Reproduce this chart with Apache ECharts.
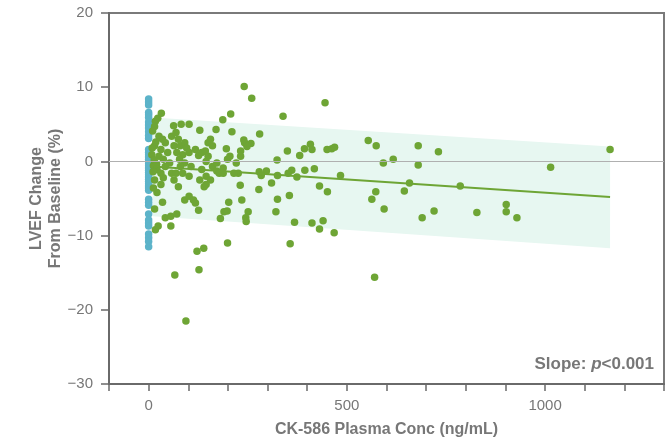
<!DOCTYPE html>
<html>
<head>
<meta charset="utf-8">
<script src="https://cdn.jsdelivr.net/npm/echarts@6/dist/echarts.min.js"></script>
<style>
  html, body { margin: 0; padding: 0; background: #fff; }
</style>
</head>
<body>
<div id="main" style="width: 671px; height: 441px"></div>
<script>
  // placebo patients, all at concentration 0
  var placeboY = [8.4, 8.0, 7.6, 6.6, 6.3, 5.9, 5.3, 4.9, 4.5, 4.0, 3.5, 3.1, 1.6, 1.2, 0.9, 0.6,
    0.3, 0.0, -0.3, -0.6, -0.9, -1.2, -1.5, -1.8, -2.1, -2.4, -2.7, -3.0, -3.3, -3.6, -3.9,
    -5.1, -5.5, -5.9, -7.1, -7.9, -8.3, -8.7, -9.8, -10.3, -10.8, -11.5];

  // CK-586 patients: plasma conc (ng/mL) and LVEF change (%)
  var drugX = [17, 23, 32, 15, 10, 26, 35, 42, 15, 31, 48, 26, 37, 15, 53, 42, 21, 31, 58, 37,
    15, 31, 21, 35, 15, 17, 24, 42, 56, 56, 71, 63, 82, 102, 58, 69, 75, 64, 80, 71,
    86, 91, 96, 102, 78, 91, 107, 80, 69, 86, 102, 64, 75, 91, 102, 113, 118, 126, 129, 118,
    126, 134, 143, 150, 156, 150, 161, 145, 161, 172, 134, 145, 129, 156, 172, 178, 188, 199, 205, 196,
    210, 221, 232, 232, 242, 226, 215, 188, 140, 145, 170, 187, 207,
    241, 260, 445, 339, 240, 258, 248, 280, 554, 574, 680, 731, 1164, 1014,
    408, 412, 393, 381, 350, 450, 462, 469, 324, 592, 617, 680,
    484, 418, 394, 361, 374, 352, 325, 297, 284, 279,
    310, 231, 278, 431, 658, 786, 645, 451, 573,
    355, 325, 235, 202, 563, 594, 321, 251, 198, 190, 828, 720, 902, 902, 929, 690,
    181, 245, 246, 368, 412, 440, 431, 468, 199, 357, 122, 139, 127, 66, 570, 94,
    8, 12, 9, 14, 11, 20, 12, 18];
  var drugY = [5.4, 5.8, 6.5, 4.7, 4.1, 3.4, 3.0, 2.5, 2.1, 1.6, 1.2, 0.7, 0.3, -0.2, -0.2, -0.7, -1.1, -1.6, -1.6, -2.2,
    -2.5, -3.1, -4.2, -5.5, -6.4, -9.2, -8.7, -7.6, -7.4, -8.7, -7.1, 4.8, 5.0, 5.0, 3.4, 3.9, 3.0, 2.1, 2.1, 1.2,
    0.9, 2.5, 1.8, 1.2, 0.3, -0.2, -0.7, -0.7, -1.6, -1.6, -2.0, -2.5, -3.4, -5.2, -4.7, -5.2, -5.6, -6.6, 4.2, 1.6,
    0.8, 1.2, 1.4, 0.7, 3.0, 2.5, 2.1, 0.0, -0.7, -0.2, -1.1, -2.0, -2.5, -2.5, -1.3, -1.6, -0.9, 0.3, 0.7, 1.7,
    4.0, -0.2, 0.7, 1.4, 2.5, -1.6, -1.6, -1.6, -3.4, -3.1, 4.3, 5.6, 6.4,
    10.1, 8.5, 7.9, 6.1, 2.9, 2.4, 2.0, 3.7, 2.8, 2.1, 2.1, 1.3, 1.6, -0.8,
    2.3, 1.6, 1.7, 0.8, 1.4, 1.6, 1.7, 1.9, 0.2, -0.2, 0.3, -0.5,
    -1.9, -1.0, -1.2, -1.2, -2.1, -1.6, -1.9, -1.3, -1.9, -1.4,
    -2.9, -3.2, -3.8, -3.3, -2.9, -3.3, -4.0, -4.1, -4.1,
    -4.6, -5.1, -5.2, -5.5, -5.1, -6.4, -6.8, -6.8, -6.7, -6.8, -6.9, -6.7, -5.8, -6.8, -7.6, -7.6,
    -7.7, -7.6, -8.1, -8.2, -8.3, -8.0, -9.1, -9.6, -11.0, -11.1, -12.1, -11.7, -14.6, -15.3, -15.6, -21.5,
    0.9, -0.6, 1.8, 0.2, -1.4, -0.4, -3.6, 2.6];

  // regression fit and its band
  var fitX = [10, 1164];
  var fitY = [-0.7, -4.8];
  var bandUpper = [5.9, 2.0];
  var bandLower = [-7.4, -11.7];

  var xTicks = [0, 500, 1000];
  var yTicks = [-30, -20, -10, 0, 10, 20];

  var FONT = "Liberation Sans, Arial, sans-serif";
  var GREEN = "#6ea535";
  var BLUE = "#5cb3c9";
  var GREY = "#777777";

  var myChart = echarts.init(document.getElementById("main"));

  var placeboData = placeboY.map(function (y) { return [0, y]; });
  var drugData = drugX.map(function (x, i) { return [x, drugY[i]]; });
  var fitData = fitX.map(function (x, i) { return [x, fitY[i]]; });
  var bandData = fitX.map(function (x, i) { return [x, bandUpper[i], bandLower[i]]; });

  var option = {
    animation: false,
    grid: {
      left: 109, right: 7, top: 13, bottom: 57,
      outerBoundsMode: "none",
      containLabel: false,
      show: true, borderColor: "#7a7a7a", borderWidth: 2
    },
    xAxis: {
      type: "value",
      min: -100, max: 1300, interval: 100,
      name: "CK-586 Plasma Conc (ng/mL)",
      nameLocation: "middle",
      nameGap: 38,
      nameMoveOverlap: false,
      nameTextStyle: { color: GREY, fontFamily: FONT, fontSize: 16, fontWeight: "bold" },
      axisLine: { onZero: false, lineStyle: { color: "#6a6a6a", width: 2 } },
      axisTick: { show: true, length: 7, lineStyle: { color: "#6a6a6a", width: 1.5 } },
      axisLabel: {
        color: GREY, fontFamily: FONT, fontSize: 15, margin: 14,
        formatter: function (v) { return xTicks.indexOf(v) >= 0 ? String(v) : ""; }
      },
      splitLine: { show: false }
    },
    yAxis: {
      type: "value",
      min: -30, max: 20, interval: 10,
      name: "LVEF Change\nFrom Baseline (%)",
      nameLocation: "middle",
      nameGap: 44,
      nameMoveOverlap: false,
      nameRotate: 90,
      nameTextStyle: { color: GREY, fontFamily: FONT, fontSize: 16, fontWeight: "bold", lineHeight: 19 },
      axisLine: { onZero: false, lineStyle: { color: "#6a6a6a", width: 2 } },
      axisTick: { show: true, length: 8, lineStyle: { color: "#6a6a6a", width: 1.5 } },
      axisLabel: {
        color: GREY, fontFamily: FONT, fontSize: 15, margin: 16,
        formatter: function (v) {
          return yTicks.indexOf(v) >= 0 ? String(v).replace("-", "\u2212") : "";
        }
      },
      splitLine: { show: false }
    },
    series: [
      {
        // shaded band around the fit
        type: "custom",
        silent: true,
        z: 1,
        data: bandData,
        renderItem: function (params, api) {
          if (params.dataIndex !== 0) return;
          var pts = [];
          bandData.forEach(function (d) { pts.push(api.coord([d[0], d[1]])); });
          for (var i = bandData.length - 1; i >= 0; i--) {
            pts.push(api.coord([bandData[i][0], bandData[i][2]]));
          }
          return {
            type: "polygon",
            shape: { points: pts },
            style: { fill: "#e7f7f1" }
          };
        }
      },
      {
        type: "line",
        data: [],
        silent: true,
        z: 2,
        markLine: {
          silent: true,
          symbol: "none",
          label: { show: false },
          lineStyle: { color: "#b0b0b0", width: 1, type: "solid" },
          data: [{ yAxis: 0 }]
        }
      },
      {
        type: "scatter",
        name: "Placebo",
        data: placeboData,
        symbolSize: 7.5,
        z: 4,
        itemStyle: { color: BLUE, opacity: 1 }
      },
      {
        type: "scatter",
        name: "CK-586",
        data: drugData,
        symbolSize: 7.5,
        z: 4,
        itemStyle: { color: GREEN, opacity: 1 }
      },
      {
        type: "line",
        data: fitData,
        showSymbol: false,
        z: 3,
        lineStyle: { color: GREEN, width: 2 }
      }
    ],
    graphic: [
      {
        type: "text",
        right: 17,
        top: 356,
        style: {
          text: "{b|Slope: }{i|p}{b|<0.001}",
          rich: {
            b: { fontFamily: FONT, fontSize: 17, fontWeight: "bold", fill: GREY, color: GREY },
            i: { fontFamily: FONT, fontSize: 17, fontWeight: "bold", fontStyle: "italic", fill: GREY, color: GREY }
          }
        }
      }
    ]
  };

  myChart.setOption(option);
</script>
</body>
</html>
